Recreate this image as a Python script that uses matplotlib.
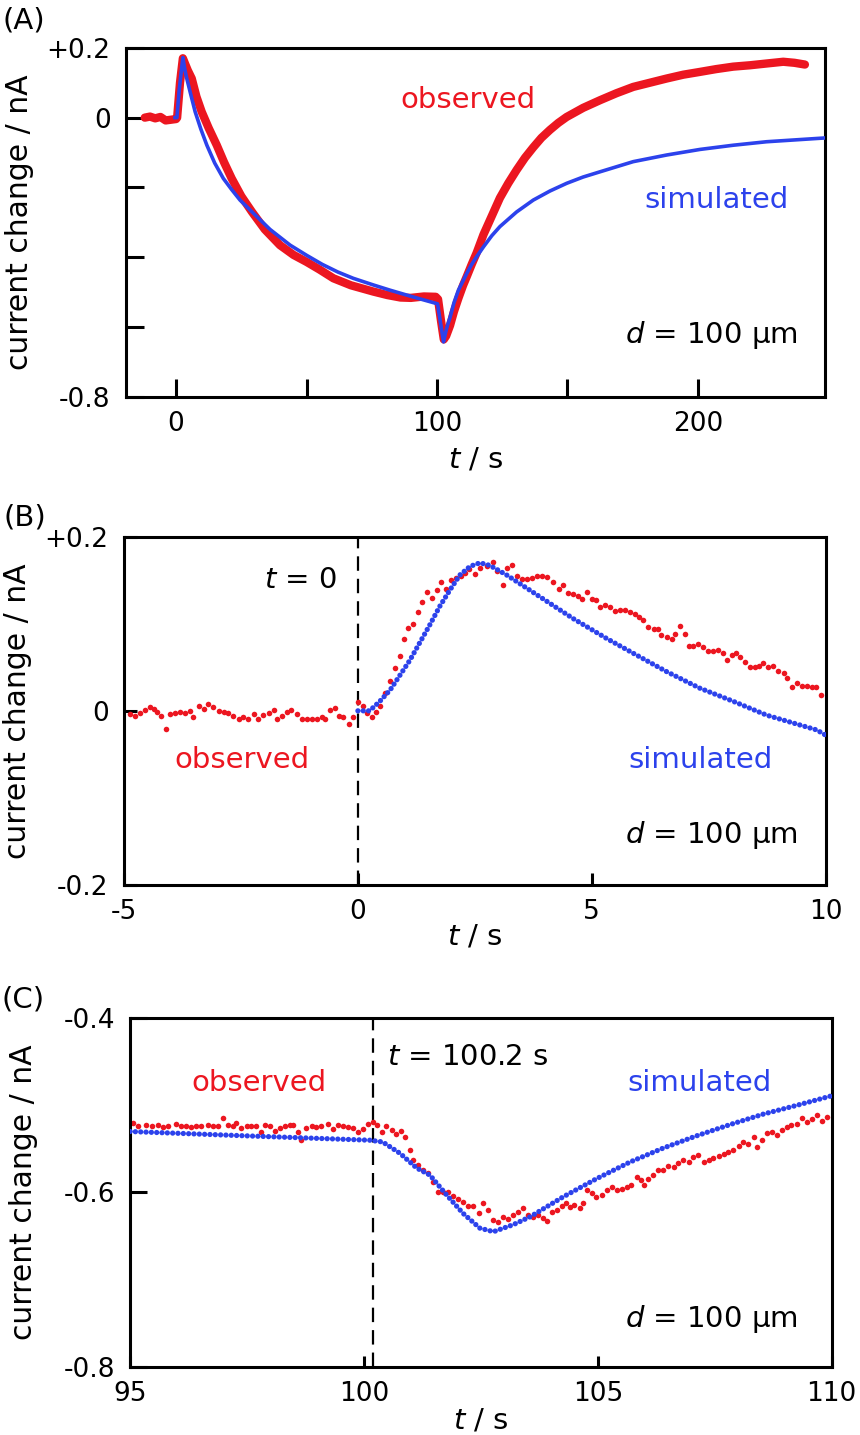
import matplotlib
matplotlib.use("Agg")
import matplotlib.pyplot as plt

plt.rcParams['font.family'] = ['DejaVu Sans']
plt.rcParams['axes.unicode_minus'] = False
plt.rcParams['mathtext.fontset'] = 'dejavusans'

RED = '#ec1620'
BLUE = '#2c42ec'

# ---------------- (A) whole run, t = -12 ... 250 s ----------------
a_obs_t = [-12, -10, -8, -6, -4, -2, 0, 0.4, 1.5, 2.6, 3.4, 4.5, 6.0, 7.8, 9.8, 12.5,
           15.6, 18.4, 21.3, 25, 29, 34, 39.8, 45, 50, 55, 60.3, 67, 75.6, 81, 86, 90,
           95, 99.5, 100.4, 101.5, 102.6, 103.5, 105, 106.5, 108.2, 110, 111.4, 113.3,
           115.2, 117.8, 120.5, 124.1, 127.3, 130.5, 133.7, 136.9, 140, 143.3, 146.5,
           149.7, 156, 162.5, 168.8, 175.2, 181.6, 188, 194.4, 200.8, 207, 213.5, 220,
           226.3, 232.7, 237, 241]
a_obs_i = [0.0, 0.003, -0.002, 0.002, -0.008, -0.006, -0.004, 0.0, 0.1, 0.17, 0.155,
           0.135, 0.112, 0.06, 0.017, -0.03, -0.079, -0.128, -0.174, -0.225, -0.269,
           -0.32, -0.365, -0.393, -0.413, -0.435, -0.46, -0.48, -0.498, -0.508, -0.515,
           -0.516, -0.512, -0.513, -0.52, -0.58, -0.635, -0.625, -0.595, -0.555, -0.517,
           -0.48, -0.455, -0.42, -0.387, -0.335, -0.29, -0.23, -0.188, -0.15, -0.115,
           -0.085, -0.058, -0.035, -0.015, 0.002, 0.028, 0.05, 0.07, 0.088, 0.1, 0.112,
           0.123, 0.131, 0.139, 0.146, 0.15, 0.155, 0.16, 0.157, 0.152]

a_sim_t = [-0.4, 0.3, 1.2, 2.6, 3.3, 4.1, 5.5, 7.3, 9.5, 11.8, 14.8, 18.1, 21.2, 24.5,
           29, 36, 43.7, 50, 56, 62, 67.9, 75.6, 82, 88.4, 94, 100.2, 102.5, 103.3, 104,
           105, 106.5, 108.2, 110, 111.4, 113.3, 115.2, 117.8, 121, 124.1, 130.5, 136.9,
           143.3, 149.7, 156, 162.5, 175.2, 188, 200.8, 213.5, 226.3, 249]
a_sim_i = [0.0, 0.0, 0.08, 0.172, 0.14, 0.112, 0.07, 0.017, -0.033, -0.079, -0.13,
           -0.174, -0.205, -0.236, -0.269, -0.32, -0.365, -0.394, -0.42, -0.442, -0.46,
           -0.479, -0.494, -0.508, -0.52, -0.533, -0.642, -0.615, -0.595, -0.572, -0.53,
           -0.494, -0.467, -0.446, -0.42, -0.398, -0.37, -0.338, -0.312, -0.27, -0.236,
           -0.21, -0.188, -0.17, -0.155, -0.126, -0.107, -0.091, -0.079, -0.069, -0.058]

# ---------------- (B) around t = 0 ----------------
b_obs_t = [-4.87, -4.76, -4.65, -4.55, -4.44, -4.36, -4.29, -4.2, -4.11, -4.02, -3.91,
           -3.8, -3.69, -3.6, -3.52, -3.4, -3.3, -3.2, -3.09, -2.98, -2.87, -2.77, -2.66,
           -2.55, -2.45, -2.34, -2.23, -2.13, -2.02, -1.91, -1.8, -1.72, -1.63, -1.52,
           -1.42, -1.31, -1.2, -1.09, -0.99, -0.88, -0.77, -0.7, -0.59, -0.49, -0.41,
           -0.31, -0.2, -0.11, 0.0, 0.1, 0.2, 0.3, 0.38, 0.47, 0.58, 0.69, 0.8, 0.9, 0.99,
           1.08, 1.18, 1.29, 1.38, 1.48, 1.59, 1.69, 1.78, 1.89, 2.0, 2.1, 2.2, 2.28, 2.38,
           2.5, 2.61, 2.75, 2.89, 2.97, 3.1, 3.18, 3.29, 3.4, 3.5, 3.61, 3.72, 3.82, 3.93,
           4.04, 4.18, 4.29, 4.39, 4.5, 4.6, 4.71, 4.79, 4.89, 5.0, 5.1, 5.18, 5.29, 5.39,
           5.5, 5.6, 5.71, 5.82, 5.92, 6.0, 6.1, 6.21, 6.32, 6.42, 6.49, 6.6, 6.71, 6.78,
           6.88, 6.99, 7.08, 7.17, 7.28, 7.38, 7.49, 7.6, 7.7, 7.8, 7.88, 7.99, 8.08, 8.17,
           8.27, 8.38, 8.49, 8.58, 8.66, 8.77, 8.88, 8.99, 9.1, 9.18, 9.27, 9.38, 9.49,
           9.59, 9.7, 9.79, 9.89]
b_obs_i = [-0.004, -0.006, -0.002, 0.001, 0.004, 0.002, -0.001, -0.006, -0.021, -0.004,
           -0.002, -0.001, -0.003, 0.0, -0.007, 0.006, 0.002, 0.008, 0.004, 0.0, -0.001,
           -0.003, -0.006, -0.009, -0.007, -0.009, -0.004, -0.009, -0.005, -0.002, 0.001,
           -0.009, -0.006, -0.001, 0.001, -0.004, -0.009, -0.009, -0.009, -0.009, -0.007,
           -0.009, 0.001, 0.003, -0.006, -0.007, -0.015, -0.007, 0.01, 0.006, -0.003,
           -0.007, -0.001, 0.005, 0.02, 0.034, 0.049, 0.063, 0.082, 0.095, 0.1, 0.113,
           0.125, 0.136, 0.13, 0.139, 0.148, 0.14, 0.15, 0.153, 0.155, 0.158, 0.163, 0.157,
           0.164, 0.166, 0.171, 0.161, 0.145, 0.164, 0.167, 0.155, 0.151, 0.151, 0.153,
           0.155, 0.155, 0.154, 0.148, 0.14, 0.144, 0.135, 0.134, 0.132, 0.128, 0.136,
           0.128, 0.127, 0.119, 0.121, 0.119, 0.115, 0.116, 0.116, 0.113, 0.111, 0.108,
           0.104, 0.096, 0.094, 0.094, 0.087, 0.085, 0.082, 0.088, 0.097, 0.088, 0.074,
           0.074, 0.077, 0.073, 0.069, 0.069, 0.07, 0.066, 0.058, 0.064, 0.066, 0.062,
           0.056, 0.05, 0.05, 0.052, 0.055, 0.05, 0.051, 0.046, 0.043, 0.038, 0.027, 0.032,
           0.029, 0.028, 0.027, 0.027, 0.018]

b_sim_t = [0.0, 0.25, 0.47, 0.69, 0.9, 1.11, 1.33, 1.54, 1.75, 1.97, 2.18, 2.4, 2.61,
           2.82, 3.18, 3.89, 4.6, 5.32, 5.89, 6.6, 7.31, 8.02, 8.74, 9.81, 10.0]
b_sim_i = [0.0, 0.0, 0.011, 0.024, 0.041, 0.058, 0.079, 0.099, 0.12, 0.139, 0.156, 0.166,
           0.17, 0.167, 0.156, 0.131, 0.106, 0.083, 0.066, 0.045, 0.026, 0.011, -0.005,
           -0.022, -0.028]

# ---------------- (C) around t = 100.2 s ----------------
c_obs_t = [95.06, 95.17, 95.35, 95.46, 95.6, 95.71, 95.81, 95.99, 96.1, 96.2, 96.31,
           96.42, 96.52, 96.67, 96.77, 96.88, 96.99, 97.09, 97.2, 97.27, 97.38, 97.49,
           97.59, 97.7, 97.81, 97.88, 97.99, 98.09, 98.2, 98.31, 98.41, 98.48, 98.59,
           98.66, 98.77, 98.88, 98.98, 99.09, 99.23, 99.34, 99.45, 99.55, 99.66, 99.77,
           99.87, 99.98, 100.09, 100.19, 100.29, 100.39, 100.48, 100.59, 100.69, 100.79,
           100.87, 100.98, 101.05, 101.16, 101.26, 101.37, 101.48, 101.58, 101.69, 101.8,
           101.9, 102.01, 102.12, 102.23, 102.34, 102.45, 102.55, 102.66, 102.77, 102.87,
           102.98, 103.09, 103.19, 103.3, 103.41, 103.51, 103.62, 103.73, 103.82, 103.91,
           104.01, 104.12, 104.23, 104.33, 104.4, 104.5, 104.62, 104.69, 104.76, 104.87,
           104.97, 105.08, 105.19, 105.3, 105.4, 105.51, 105.62, 105.72, 105.83, 105.92,
           105.99, 106.08, 106.19, 106.29, 106.4, 106.51, 106.62, 106.72, 106.83, 106.94,
           107.04, 107.15, 107.26, 107.37, 107.47, 107.58, 107.69, 107.79, 107.9, 108.01,
           108.11, 108.22, 108.33, 108.41, 108.5, 108.61, 108.72, 108.82, 108.93, 109.04,
           109.14, 109.25, 109.36, 109.47, 109.57, 109.68, 109.79, 109.89]
c_obs_i = [-0.52, -0.524, -0.522, -0.524, -0.522, -0.525, -0.524, -0.521, -0.524, -0.524,
           -0.525, -0.524, -0.524, -0.522, -0.524, -0.524, -0.515, -0.522, -0.524, -0.52,
           -0.526, -0.524, -0.524, -0.524, -0.531, -0.522, -0.524, -0.529, -0.526, -0.524,
           -0.522, -0.522, -0.531, -0.54, -0.526, -0.524, -0.525, -0.524, -0.521, -0.527,
           -0.522, -0.524, -0.525, -0.526, -0.53, -0.527, -0.521, -0.519, -0.522, -0.531,
           -0.524, -0.528, -0.533, -0.529, -0.536, -0.551, -0.563, -0.568, -0.574, -0.578,
           -0.588, -0.6, -0.599, -0.599, -0.604, -0.607, -0.611, -0.616, -0.616, -0.623,
           -0.612, -0.62, -0.632, -0.634, -0.628, -0.63, -0.626, -0.622, -0.618, -0.626,
           -0.628, -0.626, -0.629, -0.633, -0.622, -0.62, -0.615, -0.612, -0.617, -0.614,
           -0.618, -0.612, -0.597, -0.601, -0.605, -0.603, -0.597, -0.594, -0.597, -0.596,
           -0.594, -0.591, -0.582, -0.586, -0.591, -0.585, -0.58, -0.574, -0.574, -0.57,
           -0.571, -0.566, -0.563, -0.565, -0.559, -0.557, -0.565, -0.563, -0.56, -0.558,
           -0.556, -0.553, -0.551, -0.547, -0.542, -0.544, -0.536, -0.548, -0.54, -0.532,
           -0.53, -0.534, -0.528, -0.525, -0.523, -0.521, -0.515, -0.519, -0.516, -0.511,
           -0.518, -0.513]

c_sim_t = [95.0, 97.5, 100.13, 100.4, 100.77, 101.13, 101.41, 101.77, 102.12, 102.48,
           102.77, 103.19, 103.55, 104.26, 104.98, 105.69, 106.4, 107.11, 107.83, 108.54,
           109.25, 110.0]
c_sim_i = [-0.53, -0.535, -0.54, -0.542, -0.555, -0.572, -0.58, -0.603, -0.624, -0.641,
           -0.645, -0.637, -0.628, -0.605, -0.584, -0.565, -0.549, -0.535, -0.522, -0.51,
           -0.5, -0.489]

LAB = 21   # label / annotation size
TCK = 19   # tick label size


def frame(ax, xlen, ylen):
    for s in ax.spines.values():
        s.set_linewidth(2.2)
    ax.tick_params(direction='in', width=2.2, labelsize=TCK, top=False, right=False)
    ax.tick_params(axis='x', length=xlen, pad=10)
    ax.tick_params(axis='y', length=ylen, pad=11)
    ax.set_ylabel('current change / nA', fontsize=21.5)
    ax.yaxis.set_label_coords(-0.131, 0.5)


def dotted(ax, t, v):
    # dense dot trace of the simulation
    ax.plot(t, v, color=BLUE, lw=3.8, linestyle=(0, (0.01, 1.0)),
            dash_capstyle='round', zorder=3)


fig = plt.figure(figsize=(8.6, 14.35), dpi=100)

# ---- (A)
axA = fig.add_axes([0.1465, 0.7233, 0.8128, 0.2434])
axA.plot(a_obs_t, a_obs_i, color=RED, lw=6, solid_capstyle='round',
         solid_joinstyle='round', zorder=2)
axA.plot(a_sim_t, a_sim_i, color=BLUE, lw=2.6, solid_joinstyle='round', zorder=3)
axA.set_xlim(-19.2, 248.7)
axA.set_ylim(-0.8, 0.2)
axA.set_xticks([0, 50, 100, 150, 200])
axA.set_xticklabels(['0', '', '100', '', '200'])
axA.set_yticks([-0.8, -0.6, -0.4, -0.2, 0, 0.2])
axA.set_yticklabels(['-0.8', '', '', '', '0', '+0.2'])
frame(axA, 13, 13)
axA.set_xlabel('$t$ / s', fontsize=LAB)
axA.xaxis.set_label_coords(0.5, -0.14)
axA.text(0.392, 0.827, 'observed', color=RED, fontsize=LAB, transform=axA.transAxes,
         ha='left', va='baseline')
axA.text(0.845, 0.540, 'simulated', color=BLUE, fontsize=LAB, transform=axA.transAxes,
         ha='center', va='baseline')
axA.text(0.838, 0.154, '$d$ = 100 µm', color='black', fontsize=LAB,
         transform=axA.transAxes, ha='center', va='baseline')

# ---- (B)
axB = fig.add_axes([0.1442, 0.3833, 0.8159, 0.2427])
axB.axvline(0, color='black', lw=1.6, linestyle=(0, (6.5, 3.6)), zorder=1)
axB.plot(b_obs_t, b_obs_i, 'o', color=RED, ms=4.0, mew=0, zorder=2)
dotted(axB, b_sim_t, b_sim_i)
axB.set_xlim(-5, 10)
axB.set_ylim(-0.2, 0.2)
axB.set_xticks([-5, 0, 5, 10])
axB.set_xticklabels(['-5', '0', '5', '10'])
axB.set_yticks([-0.2, 0, 0.2])
axB.set_yticklabels(['-0.2', '0', '+0.2'])
frame(axB, 8.5, 9)
axB.set_xlabel('$t$ / s', fontsize=LAB)
axB.xaxis.set_label_coords(0.5, -0.108)
axB.text(0.3035, 0.852, '$t$ = 0', color='black', fontsize=LAB,
         transform=axB.transAxes, ha='right', va='baseline')
axB.text(0.1675, 0.335, 'observed', color=RED, fontsize=LAB, transform=axB.transAxes,
         ha='center', va='baseline')
axB.text(0.822, 0.335, 'simulated', color=BLUE, fontsize=LAB, transform=axB.transAxes,
         ha='center', va='baseline')
axB.text(0.837, 0.121, '$d$ = 100 µm', color='black', fontsize=LAB,
         transform=axB.transAxes, ha='center', va='baseline')

# ---- (C)
axC = fig.add_axes([0.1512, 0.0476, 0.8159, 0.2428])
axC.axvline(100.2, color='black', lw=1.6, linestyle=(0, (6.5, 3.6)), zorder=1)
axC.plot(c_obs_t, c_obs_i, 'o', color=RED, ms=4.0, mew=0, zorder=2)
dotted(axC, c_sim_t, c_sim_i)
axC.set_xlim(95, 110)
axC.set_ylim(-0.8, -0.4)
axC.set_xticks([95, 100, 105, 110])
axC.set_xticklabels(['95', '100', '105', '110'])
axC.set_yticks([-0.8, -0.6, -0.4])
axC.set_yticklabels(['-0.8', '-0.6', '-0.4'])
frame(axC, 8, 12)
axC.set_xlabel('$t$ / s', fontsize=LAB)
axC.xaxis.set_label_coords(0.5, -0.115)
axC.text(0.366, 0.866, '$t$ = 100.2 s', color='black', fontsize=LAB,
         transform=axC.transAxes, ha='left', va='baseline')
axC.text(0.184, 0.792, 'observed', color=RED, fontsize=LAB, transform=axC.transAxes,
         ha='center', va='baseline')
axC.text(0.811, 0.792, 'simulated', color=BLUE, fontsize=LAB, transform=axC.transAxes,
         ha='center', va='baseline')
axC.text(0.828, 0.115, '$d$ = 100 µm', color='black', fontsize=LAB,
         transform=axC.transAxes, ha='center', va='baseline')

# panel letters
fig.text(0.003, 0.9803, '(A)', fontsize=21, va='baseline', ha='left')
fig.text(0.004, 0.6341, '(B)', fontsize=21, va='baseline', ha='left')
fig.text(0.002, 0.2976, '(C)', fontsize=21, va='baseline', ha='left')

fig.savefig('out.png', dpi=100)
